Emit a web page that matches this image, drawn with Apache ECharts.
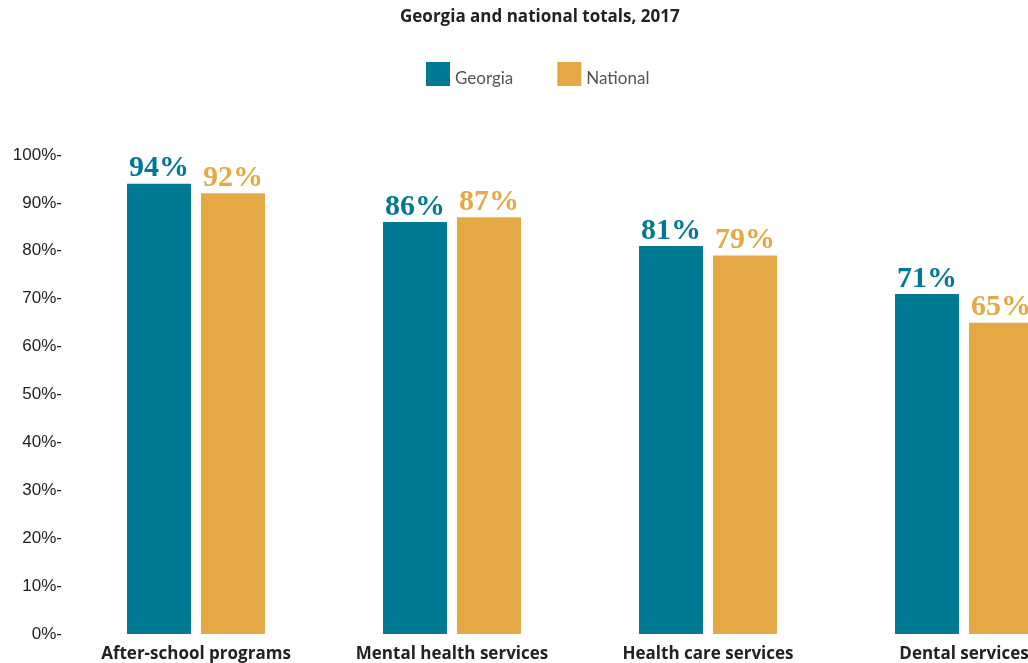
<!DOCTYPE html>
<html>
<head>
<meta charset="utf-8">
<script src="https://cdn.jsdelivr.net/npm/echarts@6/dist/echarts.min.js"></script>
<style>
  html, body { margin: 0; padding: 0; background: #fff; overflow: hidden; }
  #chart { width: 1092px; height: 663px; }
</style>
</head>
<body>
<div id="chart"></div>
<script>
// Share of schools offering each service, Georgia vs. national
const categories = ['After-school programs', 'Mental health services', 'Health care services', 'Dental services'];
const georgia = [94, 86, 81, 71];
const national = [92, 87, 79, 65];
const yTicks = [0, 10, 20, 30, 40, 50, 60, 70, 80, 90, 100];

const TEAL = '#007a94';
const GOLD = '#e4a945';

const valueLabel = (color) => ({
  show: true,
  position: 'top',
  distance: 0,
  formatter: '{c}%',
  color: color,
  fontFamily: 'Liberation Serif',
  fontWeight: 'bold',
  fontSize: 30
});

const chart = echarts.init(document.getElementById('chart'), null, { renderer: 'canvas' });
chart.setOption({
  animation: false,
  title: {
    text: 'Georgia and national totals, 2017',
    left: 395,
    top: 4,
    textStyle: { fontFamily: 'Open Sans', fontWeight: 'bold', fontSize: 17, color: '#222' }
  },
  legend: {
    data: ['Georgia', 'National'],
    left: 421,
    top: 57,
    itemWidth: 24,
    itemHeight: 24,
    itemGap: 44,
    icon: 'rect',
    formatter: '{low|{name}}',
    textStyle: {
      rich: {
        low: { fontFamily: 'Lato', fontSize: 17, color: '#555', padding: [10, 0, 0, 0] }
      }
    }
  },
  grid: { left: 68, right: 0, top: 155, bottom: 29, containLabel: false },
  xAxis: {
    type: 'category',
    data: categories,
    axisLine: { show: false },
    axisTick: { show: false },
    axisLabel: {
      margin: 12,
      color: '#222',
      fontFamily: 'Open Sans',
      fontWeight: 'bold',
      fontSize: 17,
      interval: 0
    }
  },
  yAxis: {
    type: 'value',
    min: yTicks[0],
    max: yTicks[yTicks.length - 1],
    interval: yTicks[1] - yTicks[0],
    axisLine: { show: false },
    axisTick: { show: false },
    splitLine: { show: false },
    axisLabel: {
      formatter: '{value}%-',
      margin: 6,
      color: '#222',
      fontFamily: 'Liberation Sans',
      fontSize: 17
    }
  },
  series: [
    {
      name: 'Georgia',
      type: 'bar',
      data: georgia,
      barWidth: 64,
      barGap: '15.6%',
      itemStyle: { color: TEAL },
      label: valueLabel(TEAL)
    },
    {
      name: 'National',
      type: 'bar',
      data: national,
      barWidth: 64,
      itemStyle: { color: GOLD },
      label: valueLabel(GOLD)
    }
  ]
});
</script>
</body>
</html>
